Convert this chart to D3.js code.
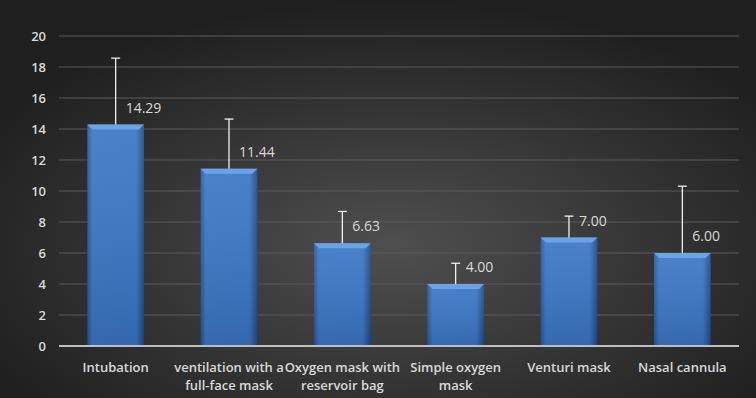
<!DOCTYPE html>
<html>
<head>
<meta charset="utf-8">
<script src="https://cdn.jsdelivr.net/npm/d3@7"></script>
<style>
  html, body { margin: 0; padding: 0; background: #2a2a2a; }
  svg { display: block; }
  text { font-family: "Open Sans", "Noto Sans", sans-serif; }
</style>
</head>
<body>
<div id="chart"></div>
<script>
const categories = [
  ['Intubation'],
  ['ventilation with a', 'full-face mask'],
  ['Oxygen mask with', 'reservoir bag'],
  ['Simple oxygen', 'mask'],
  ['Venturi mask'],
  ['Nasal cannula']
];
const values = [14.29, 11.44, 6.63, 4.00, 7.00, 6.00];
const errorPlus = [4.28, 3.20, 2.05, 1.34, 1.38, 4.31];
const yTicks = [0, 2, 4, 6, 8, 10, 12, 14, 16, 18, 20];

const W = 756, H = 398;
const margin = {top: 36, right: 17, bottom: 52, left: 59};
const width = W - margin.left - margin.right;
const height = H - margin.top - margin.bottom;

const root = d3.select('#chart').append('svg')
  .attr('width', W)
  .attr('height', H);

const defs = root.append('defs');
const bg = defs.append('radialGradient')
  .attr('id', 'bg')
  .attr('cx', '52%').attr('cy', '62%').attr('r', '62%');
bg.append('stop').attr('offset', '0%').attr('stop-color', '#4f4f4f');
bg.append('stop').attr('offset', '100%').attr('stop-color', '#1f1f1f');

const barGrad = defs.append('linearGradient')
  .attr('id', 'barGrad')
  .attr('x1', 0).attr('x2', 1).attr('y1', 0).attr('y2', 0);
barGrad.append('stop').attr('offset', '0%').attr('stop-color', '#25579c');
barGrad.append('stop').attr('offset', '9%').attr('stop-color', '#3b77c6');
barGrad.append('stop').attr('offset', '86%').attr('stop-color', '#3a76c6');
barGrad.append('stop').attr('offset', '100%').attr('stop-color', '#1f4a85');

const shade = defs.append('linearGradient')
  .attr('id', 'shade')
  .attr('x1', 0).attr('x2', 0).attr('y1', 0).attr('y2', 1);
shade.append('stop').attr('offset', '0%').attr('stop-color', '#ffffff').attr('stop-opacity', 0.08);
shade.append('stop').attr('offset', '100%').attr('stop-color', '#000000').attr('stop-opacity', 0.12);

root.append('rect').attr('width', W).attr('height', H).attr('fill', 'url(#bg)');

const svg = root.append('g')
  .attr('transform', 'translate(' + margin.left + ',' + margin.top + ')');

const x = d3.scaleBand()
  .domain(d3.range(categories.length))
  .range([0, width])
  .paddingInner(0.5)
  .paddingOuter(0.25);

const y = d3.scaleLinear().domain([0, 20]).range([height, 0]);

// gridlines
svg.append('g')
  .selectAll('line')
  .data(yTicks.filter(d => d > 0))
  .enter().append('line')
  .attr('x1', 0).attr('x2', width)
  .attr('y1', d => y(d)).attr('y2', d => y(d))
  .attr('stroke', '#5a5a5a')
  .attr('stroke-width', 1);

// y axis
const yAxis = d3.axisLeft(y).tickValues(yTicks).tickSize(0).tickPadding(13);
svg.append('g')
  .attr('class', 'y axis')
  .call(yAxis)
  .call(g => g.select('.domain').remove())
  .selectAll('text')
  .attr('fill', '#d9d9d9')
  .style('font-size', '13px')
  .style('font-weight', 600);

// bars
const bars = svg.selectAll('.bar')
  .data(values)
  .enter().append('g')
  .attr('class', 'bar');

bars.append('rect')
  .attr('x', (d, i) => x(i))
  .attr('width', x.bandwidth())
  .attr('y', d => y(d))
  .attr('height', d => height - y(d))
  .attr('fill', 'url(#barGrad)');

bars.append('rect')
  .attr('x', (d, i) => x(i))
  .attr('width', x.bandwidth())
  .attr('y', d => y(d))
  .attr('height', d => height - y(d))
  .attr('fill', 'url(#shade)');

// top bevel
bars.append('path')
  .attr('d', (d, i) => {
    const x0 = x(i), x1 = x(i) + x.bandwidth(), t = y(d);
    return 'M' + x0 + ',' + t + 'L' + x1 + ',' + t + 'L' + (x1 - 5) + ',' + (t + 5) +
      'L' + (x0 + 5) + ',' + (t + 5) + 'Z';
  })
  .attr('fill', '#6aa3e6');

// error bars
const err = svg.selectAll('.err')
  .data(values)
  .enter().append('g')
  .attr('class', 'err')
  .attr('stroke', '#ffffff')
  .attr('stroke-width', 1.2);

err.append('line')
  .attr('x1', (d, i) => x(i) + x.bandwidth() / 2)
  .attr('x2', (d, i) => x(i) + x.bandwidth() / 2)
  .attr('y1', d => y(d))
  .attr('y2', (d, i) => y(d + errorPlus[i]));

err.append('line')
  .attr('x1', (d, i) => x(i) + x.bandwidth() / 2 - 4.5)
  .attr('x2', (d, i) => x(i) + x.bandwidth() / 2 + 4.5)
  .attr('y1', (d, i) => y(d + errorPlus[i]))
  .attr('y2', (d, i) => y(d + errorPlus[i]));

// value labels
svg.selectAll('.val')
  .data(values)
  .enter().append('text')
  .attr('class', 'val')
  .attr('x', (d, i) => x(i) + x.bandwidth() / 2 + 10)
  .attr('y', d => y(d) - 12)
  .attr('fill', '#d9d9d9')
  .style('font-size', '14px')
  .style('font-weight', 400)
  .text(d => d.toFixed(2));

// x axis line
svg.append('line')
  .attr('x1', 0).attr('x2', width)
  .attr('y1', height).attr('y2', height)
  .attr('stroke', '#bfbfbf')
  .attr('stroke-width', 2);

// category labels
const cat = svg.selectAll('.cat')
  .data(categories)
  .enter().append('text')
  .attr('class', 'cat')
  .attr('text-anchor', 'middle')
  .attr('fill', '#d9d9d9')
  .style('font-size', '13px')
  .style('font-weight', 600)
  .attr('transform', (d, i) => 'translate(' + (x(i) + x.bandwidth() / 2) + ',' + (height + 26) + ')');

cat.selectAll('tspan')
  .data(d => d)
  .enter().append('tspan')
  .attr('x', 0)
  .attr('dy', (d, j) => j === 0 ? 0 : 18)
  .text(d => d);
</script>
</body>
</html>
